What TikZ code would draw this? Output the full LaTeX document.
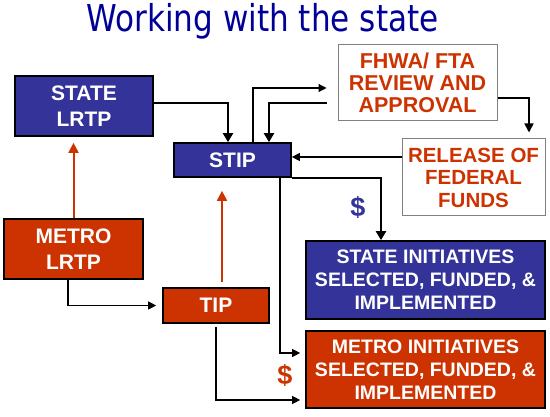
\documentclass[tikz,border=0pt]{standalone}
\usepackage{fontspec}
\setmainfont{Liberation Sans}
\newfontfamily\titlefont[FakeStretch=0.84]{DejaVu Sans}
\usetikzlibrary{arrows.meta}
\definecolor{stateblue}{HTML}{333399}
\definecolor{metrored}{HTML}{CC3300}
\definecolor{titleblue}{HTML}{000099}

\begin{document}
\begin{tikzpicture}[
    x=1pt, y=-1pt,
    every node/.style={inner sep=0pt},
    % Filled boxes
    statebox/.style={
      rectangle, draw=black, line width=1.7pt,
      fill=stateblue, text=white, align=center,
      font=\bfseries\fontsize{21}{25.5}\selectfont
    },
    metrobox/.style={statebox, fill=metrored},
    % Outlined boxes
    fedbox/.style={
      rectangle, draw=gray, line width=1pt,
      fill=white, text=metrored, align=center,
      font=\bfseries\fontsize{21.5}{22}\selectfont
    },
    % Arrows
    thickarr/.style={-{Triangle[length=9pt, width=10pt]}, line width=2.3pt},
    medarr/.style={-{Triangle[length=9pt, width=9pt]}, line width=1.6pt},
    thinarr/.style={-{Triangle[length=8pt, width=8pt]}, line width=1.1pt},
    redarr/.style={-{Triangle[length=10pt, width=10pt]}, line width=2pt, metrored},
    % Dollar signs
    money/.style={font=\bfseries\fontsize{27}{27}\selectfont}
  ]
  \useasboundingbox (0,0) rectangle (550,417);

  % ============ Title ============
  \node[anchor=base, text=titleblue, font=\titlefont\fontsize{37}{40}\selectfont]
    (title) at (262.5,32) {Working with the state};

  % ============ Boxes ============
  \node[statebox, minimum width=138pt, minimum height=60pt] (slrtp) at (84,106) {STATE\\LRTP};
  \node[statebox, minimum width=117pt, minimum height=34pt] (stip) at (232.5,160) {STIP};
  \node[fedbox, minimum width=159pt, minimum height=76pt] (fhwa) at (417.5,83) {FHWA/ FTA\\REVIEW AND\\APPROVAL};
  \node[fedbox, minimum width=143pt, minimum height=77pt,
    font=\bfseries\fontsize{20.5}{22.5}\selectfont] (release) at (473.5,177.5) {RELEASE OF\\FEDERAL\\FUNDS};
  \node[metrobox, minimum width=139pt, minimum height=60pt] (mlrtp) at (73.5,249) {METRO\\LRTP};
  \node[metrobox, minimum width=106pt, minimum height=35pt] (tip) at (216,305.5) {TIP};
  \node[statebox, minimum width=239pt, minimum height=78pt,
    font=\bfseries\fontsize{19.5}{23}\selectfont] (sinit) at (425.5,280)
    {STATE INITIATIVES\\SELECTED, FUNDED, \&\\IMPLEMENTED};
  \node[metrobox, minimum width=239pt, minimum height=77pt,
    font=\bfseries\fontsize{19.5}{23}\selectfont] (minit) at (425.5,369.5)
    {METRO INITIATIVES\\SELECTED, FUNDED, \&\\IMPLEMENTED};

  % ============ Dollar signs ============
  \node[money, text=stateblue] (sfund) at (358,207) {\$};
  \node[money, text=metrored] (mfund) at (285,375) {\$};

  % ============ Upward links ============
  \draw[redarr, shorten >=6pt] (mlrtp.north) -- (mlrtp.north |- slrtp.south);
  \draw[redarr, shorten <=5pt, shorten >=13pt] ([xshift=6pt]tip.north) -- ([xshift=6pt]tip.north |- stip.south);

  % ============ State side ============
  \draw[thickarr] ([yshift=3pt]slrtp.east) -| ([xshift=-4.5pt]stip.north);
  \draw[thinarr, shorten >=11pt] ([xshift=20.5pt]stip.north) |- ([yshift=-5pt]fhwa.west);
  \draw[thickarr, shorten <=11pt] ([yshift=-20pt]fhwa.west) -| ([xshift=36.5pt]stip.north);
  \draw[medarr, shorten >=6pt] ([yshift=-15pt]fhwa.east) -| ([xshift=55.5pt]release.north);
  \draw[thinarr] ([yshift=20.5pt]release.west) -- ([yshift=20.5pt]release.west -| stip.east);
  \draw[thickarr] (stip.south east) -| ([xshift=-44.5pt]sinit.north);
  \draw[thinarr, shorten >=5pt] ([xshift=47.5pt]stip.south) |- ([yshift=16.5pt]minit.west);

  % ============ Metro side ============
  \draw[thinarr, shorten >=6pt] ([xshift=-5.5pt]mlrtp.south) |- (tip.west);
  \draw[thinarr, shorten <=3pt, shorten >=5pt] (tip.south) |- ([yshift=-30.5pt]minit.west);

\end{tikzpicture}
\end{document}
